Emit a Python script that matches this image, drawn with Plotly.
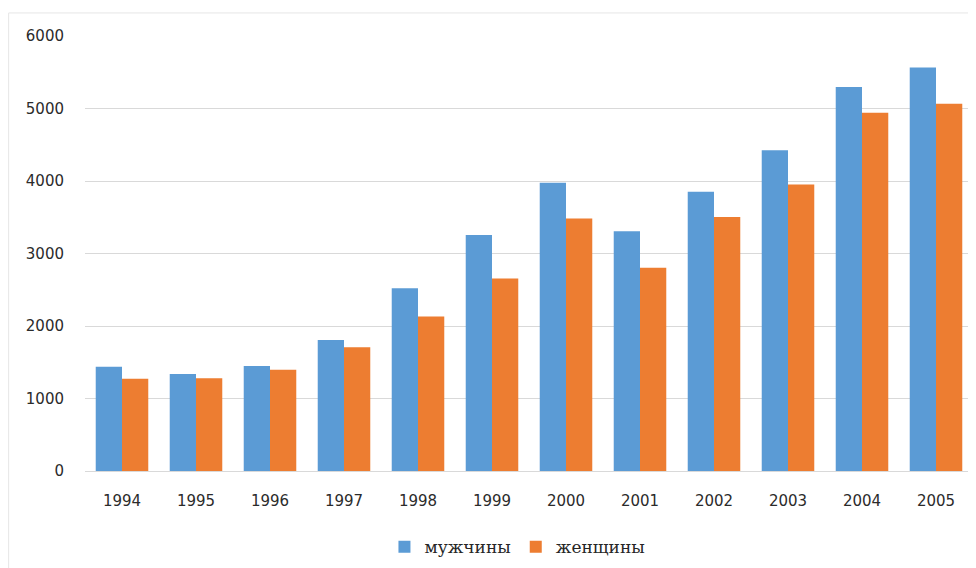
import plotly.graph_objects as go

years = ["1994", "1995", "1996", "1997", "1998", "1999", "2000", "2001", "2002", "2003", "2004", "2005"]
men = [1438, 1338, 1448, 1807, 2521, 3255, 3975, 3308, 3851, 4425, 5296, 5565]
women = [1273, 1278, 1398, 1707, 2132, 2656, 3483, 2805, 3503, 3951, 4943, 5067]
series_names = ["мужчины", "женщины"]
y_ticks = [0, 1000, 2000, 3000, 4000, 5000, 6000]

fig = go.Figure()
fig.add_trace(go.Bar(x=years, y=men, name=series_names[0], marker_color="#5B9BD5",
                     marker_line_width=0))
fig.add_trace(go.Bar(x=years, y=women, name=series_names[1], marker_color="#ED7D31",
                     marker_line_width=0))

fig.update_layout(
    width=968, height=560,
    margin=dict(l=77, r=3, t=28, b=91),
    paper_bgcolor="white", plot_bgcolor="white",
    barmode="group", bargap=0.29, bargroupgap=0,
    font=dict(family="DejaVu Sans", size=15, color="#2b2b2b"),
    legend=dict(orientation="h", x=0.487, xanchor="center", y=-0.175, yanchor="middle",
                font=dict(family="DejaVu Serif", size=17, color="#262626"),
                itemwidth=30, traceorder="normal"),
    xaxis=dict(showgrid=False, showline=True, linecolor="#d9d9d9", linewidth=1,
               ticks="", ticklabelstandoff=16, tickfont=dict(size=15)),
    yaxis=dict(range=[0, 6000], tickvals=y_ticks, showgrid=True, gridcolor="#d9d9d9",
               gridwidth=1, zeroline=False, showline=False, ticks="",
               ticklabelstandoff=20, tickfont=dict(size=15)),
    shapes=[dict(type="rect", xref="paper", yref="paper",
                 x0=-0.086, x1=1.03, y0=-0.4, y1=1.053,
                 line=dict(color="#e6e6e6", width=1))],
)

fig.write_html("out.html")
